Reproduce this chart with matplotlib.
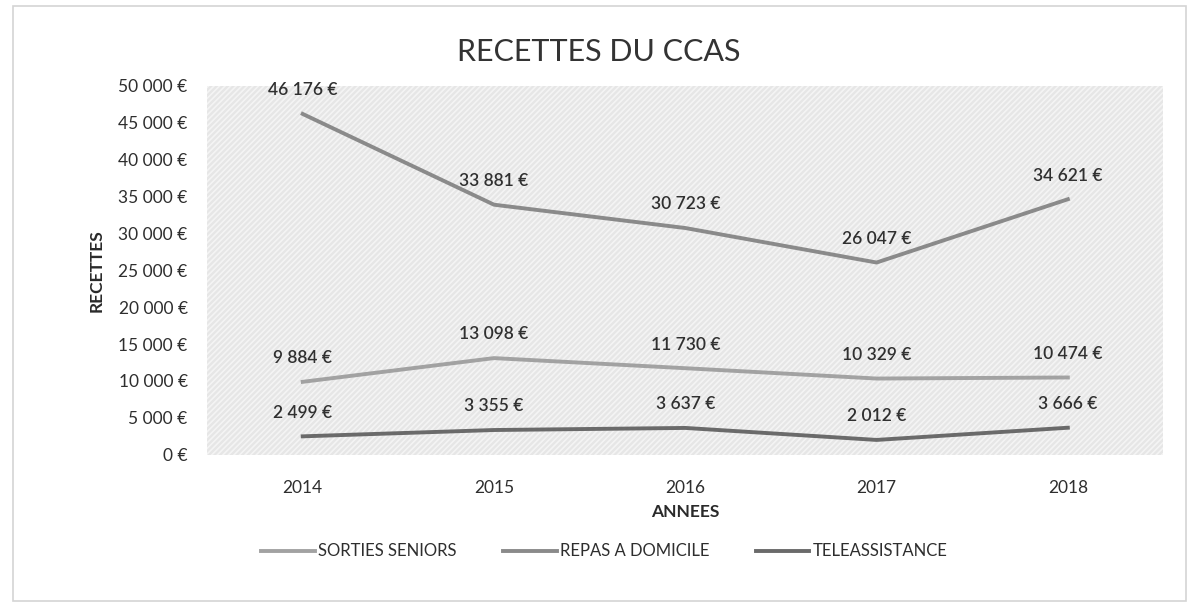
import matplotlib.pyplot as plt
from matplotlib.patches import Rectangle

plt.rcParams['font.family'] = ['Lato', 'DejaVu Sans']
plt.rcParams['hatch.linewidth'] = 1.2

years = ["2014", "2015", "2016", "2017", "2018"]
sorties_seniors = [9884, 13098, 11730, 10329, 10474]
repas_domicile = [46176, 33881, 30723, 26047, 34621]
teleassistance = [2499, 3355, 3637, 2012, 3666]
yticks = [0, 5000, 10000, 15000, 20000, 25000, 30000, 35000, 40000, 45000, 50000]


def euro(v):
    s = f"{v:,}".replace(",", " ")
    return s + " €"


fig = plt.figure(figsize=(11.97, 6.08), dpi=100)
fig.patches.append(Rectangle((0.011, 0.012), 0.98, 0.978, transform=fig.transFigure,
                             fill=False, edgecolor='#d4d4d4', linewidth=1.2))
ax = fig.add_axes([0.173, 0.252, 0.799, 0.607])
ax.set_facecolor('#e6e6e6')
ax.add_patch(Rectangle((0, 0), 1, 1, transform=ax.transAxes, facecolor='none',
                       edgecolor='#f4f4f4', hatch='//////', linewidth=0, zorder=0))

x = list(range(len(years)))
series = [
    ("SORTIES SENIORS", sorties_seniors, '#a2a2a2'),
    ("REPAS A DOMICILE", repas_domicile, '#8a8a8a'),
    ("TELEASSISTANCE", teleassistance, '#6a6a6a'),
]
for name, vals, col in series:
    ax.plot(x, vals, color=col, linewidth=2.8, label=name, zorder=3)
    for xi, v in zip(x, vals):
        ax.annotate(euro(v), (xi, v), xytext=(0, 17), textcoords='offset points',
                    ha='center', va='center', fontsize=12.5, fontweight='semibold',
                    color='#303030', zorder=4)

ax.set_xlim(-0.5, 4.5)
ax.set_ylim(0, 50000)
ax.set_xticks(x)
ax.set_xticklabels(years)
ax.set_yticks(yticks)
ax.set_yticklabels([euro(v) for v in yticks])
ax.tick_params(length=0, labelsize=12.5, labelcolor='#2e2e2e')
ax.tick_params(axis='x', pad=18)
ax.tick_params(axis='y', pad=14)
for s in ax.spines.values():
    s.set_visible(False)

ax.set_xlabel("ANNEES", fontsize=12.5, fontweight='bold', color='#2a2a2a', labelpad=6)
ax.set_ylabel("RECETTES", fontsize=12.5, fontweight='bold', color='#2a2a2a', labelpad=10)
fig.text(0.5, 0.915, "RECETTES DU CCAS", ha='center', va='center', fontsize=22, color='#333333')

fig.legend(loc='center', bbox_to_anchor=(0.505, 0.093), ncol=3, frameon=False,
           fontsize=12, handlelength=3.2, handletextpad=0.2, columnspacing=2.8,
           labelcolor='#2e2e2e')

plt.savefig("out.png", dpi=100)
